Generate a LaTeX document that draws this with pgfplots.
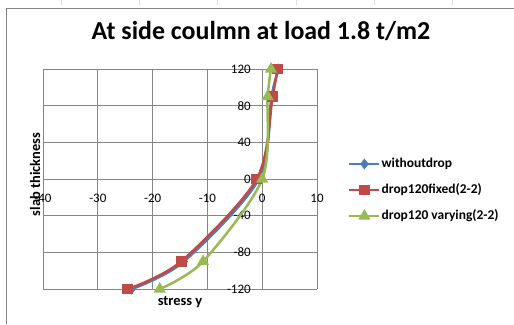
\documentclass[border=0pt]{standalone}
\usepackage{pgfplots}
\pgfplotsset{compat=1.18}
\usepackage{fontspec}
\setmainfont{Carlito}
\definecolor{sblue}{RGB}{74,126,187}
\definecolor{sred}{RGB}{190,75,72}
\definecolor{sgreen}{RGB}{152,185,84}
\definecolor{gridc}{RGB}{134,134,134}
\begin{document}
\begin{tikzpicture}[x=1bp,y=1bp]
\path[use as bounding box] (0,0) rectangle (514,324);
\draw[gridc, line width=1bp] (6.5,0) -- (6.5,315.5) -- (514,315.5);
\foreach \xx in {61,139,217,296,374,452} \draw[gray!25, line width=1bp] (\xx,319) -- (\xx,324);
\node[font=\bfseries\fontsize{26}{26}\selectfont] at (261,293) {At side coulmn at load 1.8 t/m2};
\begin{axis}[
  at={(43bp,35bp)}, anchor=south west, scale only axis,
  width=274bp, height=220bp,
  xmin=-40, xmax=10, ymin=-120, ymax=120,
  xtick={-40,-30,-20,-10,0,10},
  xticklabels={-40,-30,-20,-10,0,10},
  ytick={-120,-80,-40,0,40,80,120},
  yticklabels={-120,-80,-40,0,40,80,120},
  axis lines=middle,
  hide obscured x ticks=false, hide obscured y ticks=false,
  grid=major,
  grid style={gridc, line width=1bp},
  axis line style={gridc, line width=1bp, -},
  major tick length=0pt,
  ticklabel style={font=\fontsize{13}{13}\selectfont},
  xticklabel style={anchor=center, yshift=-19bp},
  yticklabel style={anchor=east, xshift=-8bp},
  legend style={draw=none, fill=none, at={(axis description cs:1.113,0.45)}, anchor=west,
    font=\bfseries\fontsize{13.5}{13.5}\selectfont, row sep=11bp, inner sep=0pt,
    nodes={inner sep=1bp, text height=10bp, text depth=3bp}},
  legend cell align=left,
  legend image code/.code={\draw[mark repeat=2, mark phase=2, #1] plot coordinates {(0bp,0bp) (15bp,0bp) (30bp,0bp)};},
  clip=false,
]
\addplot[sblue, line width=2.5bp, smooth, mark=diamond*, mark size=3.5bp, mark options={solid}]
  coordinates {(-23.8,-120) (-14.3,-90) (-0.6,0) (1.7,90) (3.0,120)};
\addlegendentry{withoutdrop}
\addplot[sred, line width=2.5bp, smooth, mark=square*, mark size=4.2bp, mark options={solid}]
  coordinates {(-24.5,-120) (-14.8,-90) (-1.0,0) (1.9,90) (2.8,120)};
\addlegendentry{drop120fixed(2-2)}
\addplot[sgreen, line width=2.5bp, smooth, mark=triangle*, mark size=4.5bp, mark options={solid}]
  coordinates {(-18.7,-120) (-10.8,-90) (0,0) (1.0,90) (1.6,120)};
\addlegendentry{drop120 varying(2-2)}
\end{axis}
\node[font=\bfseries\fontsize{14.5}{14.5}\selectfont] at (180,22) {stress y};
\node[font=\bfseries\fontsize{14.5}{14.5}\selectfont, rotate=90] at (35,149.5) {slab thickness};
\end{tikzpicture}
\end{document}
